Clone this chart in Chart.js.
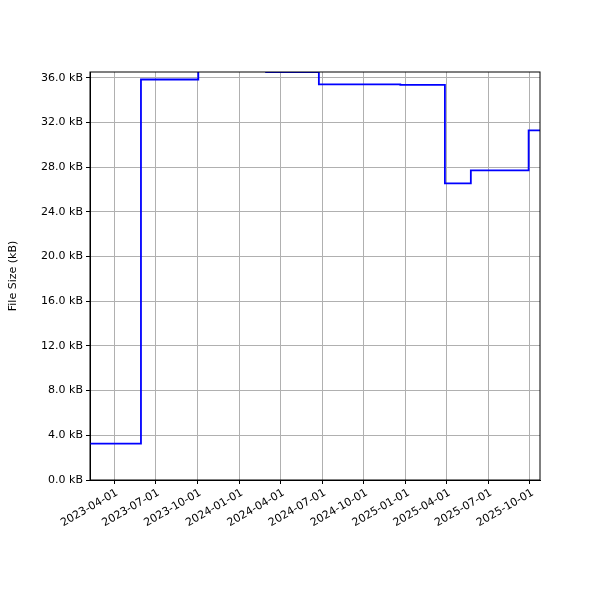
<!DOCTYPE html>
<html><head><script src="https://cdn.jsdelivr.net/npm/chart.js@4"></script>
<style>body{margin:0;background:#fff}#w{width:600px;height:600px}</style></head>
<body><div id="w"><canvas id="c"></canvas></div>
<script>
const dates = ["2023-02-07","2023-05-30","2023-10-03","2024-02-29","2024-06-24","2024-12-20","2025-03-28","2025-05-24","2025-09-28","2025-10-23"];
const sizes = [3.25,35.85,36.9,36.52,35.42,35.36,26.55,27.72,31.3,31.3];
const tickDates = ["2023-04-01","2023-07-01","2023-10-01","2024-01-01","2024-04-01","2024-07-01","2024-10-01","2025-01-01","2025-04-01","2025-07-01","2025-10-01"];
const yTicks = [0,4,8,12,16,20,24,28,32,36];
const t = s => Date.parse(s+"T00:00:00Z");
const pts = dates.map((d,i)=>({x:t(d),y:sizes[i]}));
new Chart(document.getElementById('c'),{
 type:'line',
 data:{datasets:[{data:pts,borderColor:'#0000ff',borderWidth:1.8,pointRadius:0,stepped:true,fill:false}]},
 options:{responsive:true,maintainAspectRatio:false,animation:false,
  layout:{padding:{top:72,right:60,left:7,bottom:0}},
  plugins:{legend:{display:false},tooltip:{enabled:false}},
  scales:{
   x:{type:'linear',min:t("2023-02-07"),max:t("2025-10-23"),
    afterBuildTicks:a=>{a.ticks=tickDates.map(d=>({value:t(d)}));},
    afterFit:a=>{a.height=120;},
    ticks:{display:false},
    grid:{color:'#b0b0b0',tickColor:'#000',tickLength:4},border:{color:'#000',width:1}},
   y:{min:0,max:36.52,
    afterBuildTicks:a=>{a.ticks=yTicks.map(v=>({value:v}));},
    afterFit:a=>{a.width=83;},
    title:{display:true,text:'File Size (kB)',color:'#000',padding:0,font:{family:'DejaVu Sans',size:11}},
    ticks:{color:'#000',font:{family:'DejaVu Sans',size:11},callback:v=>v.toFixed(1)+' kB'},
    grid:{color:'#b0b0b0',tickColor:'#000',tickLength:4},border:{color:'#000',width:1}}
  }},
 plugins:[{id:'frame',afterDraw(c){const a=c.chartArea,x=c.ctx,sx=c.scales.x;x.save();x.strokeStyle='#000';x.lineWidth=1;x.strokeRect(a.left,a.top,a.right-a.left,a.bottom-a.top);
  x.fillStyle='#000';x.font='11px "DejaVu Sans"';x.textAlign='right';x.textBaseline='middle';
  tickDates.forEach(d=>{const px=sx.getPixelForValue(t(d));x.save();x.translate(px+3,a.bottom+12);x.rotate(-Math.PI/6);x.fillText(d,0,0);x.restore();});
  x.restore();}}]
});
</script></body></html>
